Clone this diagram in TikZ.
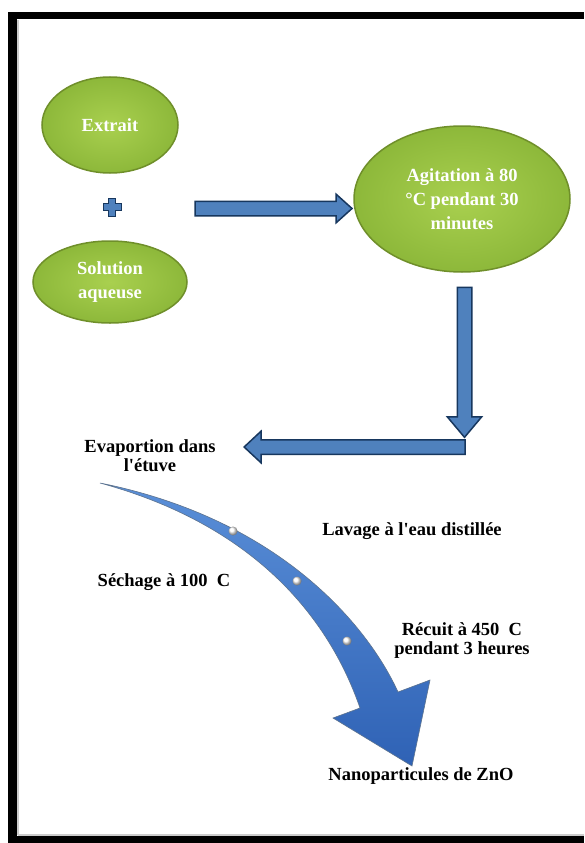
\documentclass[tikz,border=0pt]{standalone}
\usepackage{fontspec}
\setmainfont{Liberation Serif}[Ligatures=TeXOff]
\usetikzlibrary{shapes.geometric,shapes.arrows}
\definecolor{vert}{HTML}{8DB83A}
\definecolor{vertclair}{HTML}{A9D04F}
\definecolor{vertfonce}{HTML}{6F8F2A}
\definecolor{bleu}{HTML}{4F81BD}
\definecolor{bleuclair}{HTML}{5A8FD8}
\definecolor{bleusombre}{HTML}{2F62B5}
\definecolor{bleufonce}{HTML}{17375E}

\begin{document}
\begin{tikzpicture}[x=1pt,y=-1pt,
    etape/.style={ellipse,inner color=vertclair,outer color=vert,draw=vertfonce,line width=1.5pt,
      text=white,font=\bfseries\fontsize{18.5}{24}\selectfont,align=center,inner sep=0pt},
    texte/.style={font=\bfseries\fontsize{18.5}{19}\selectfont,align=center,inner sep=0pt},
    fleche/.style={single arrow,fill=bleu,draw=bleufonce,line width=1.5pt,inner xsep=0pt,inner ysep=6.5pt,
      single arrow head indent=0pt},
    perle/.style={circle,inner sep=0pt,minimum size=9pt,ball color=white}]
      \useasboundingbox (0,0) rectangle (584,843);
      \fill[black] (8,12) rectangle (584,843);
      \fill[white] (17,19) rectangle (584,836);
      \draw[gray!40,line width=2pt] (18,835) -- (18,20);
      \draw[gray!40,line width=2pt] (18,835) -- (584,835);
      \draw
        (110,125) node[etape,minimum width=136,minimum height=96] (extrait){Extrait}
        (110,282) node[etape,minimum width=154,minimum height=82] (solution){Solution\\aqueuse}
        (462,199) node[etape,minimum width=216,minimum height=146] (agitation){Agitation à 80\\°C pendant 30\\minutes}
        (150,456) node[texte] (evaporation){Evaportion dans\\l'étuve}
        (412,531) node[texte] (lavage){Lavage à l'eau distillée}
        (164,582) node[texte] (sechage){Séchage à 100\ \ C}
        (462,641) node[texte] (recuit){Récuit à 450\ \ C\\pendant 3 heures}
        (421,776) node[texte] (nano){Nanoparticules de ZnO};
      \filldraw[fill=bleu,draw=bleufonce,line width=1pt]
        (108.5,198) -- (115.5,198) -- (115.5,203.5) -- (121,203.5) -- (121,210.5) -- (115.5,210.5)
        -- (115.5,216) -- (108.5,216) -- (108.5,210.5) -- (103,210.5) -- (103,203.5) -- (108.5,203.5) -- cycle;
      \begin{scope}[every node/.style={fleche}]
        \node[minimum height=157,single arrow head extend=7pt,single arrow tip angle=84] (flecheA) at (269.5,208.5) {};
        \node[minimum height=150,inner xsep=6.5pt,inner ysep=0pt,single arrow head extend=10pt,single arrow tip angle=80,shape border rotate=270] (flecheB) at (464.5,358) {};
        \node[minimum height=221,single arrow head extend=8.5pt,single arrow tip angle=86,shape border rotate=180] (flecheC) at (358.5,447) {};
      \end{scope}
      \draw[bleufonce!70,line width=0.6pt,top color=bleuclair,bottom color=bleusombre]
        (100,483) .. controls (280,519) and (368,626) .. (398,692) -- (430,680) -- (412,766)
        -- (333,718) -- (360,708) .. controls (331,624) and (261,527) .. (100,483) -- cycle;
      \draw
        (233,531) node[perle] (p1){}
        (297,581) node[perle] (p2){}
        (347,641) node[perle] (p3){};
    \end{tikzpicture}
\end{document}
